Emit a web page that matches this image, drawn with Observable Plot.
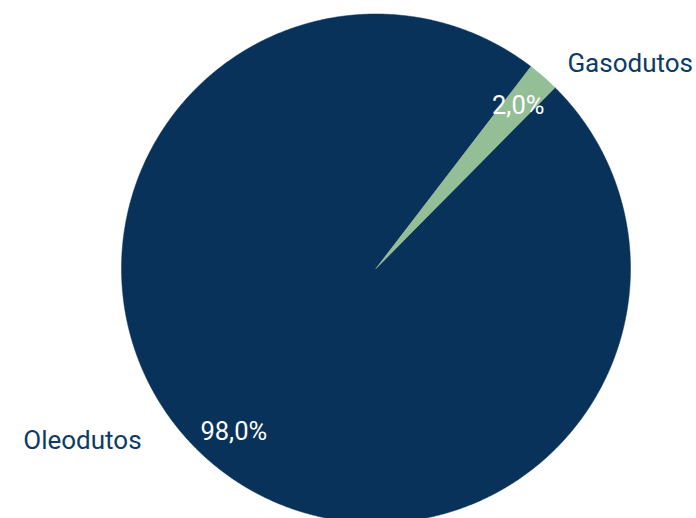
<!DOCTYPE html>
<html>
<head>
<meta charset="utf-8">
<script src="https://cdn.jsdelivr.net/npm/d3@7"></script>
<script src="https://cdn.jsdelivr.net/npm/@observablehq/plot@0.6"></script>
<style>
  html, body { margin: 0; padding: 0; background: #fff; }
  #chart svg { display: block; }
</style>
</head>
<body>
<div id="chart"></div>
<script>
// Data
const categories = ["Oleodutos", "Gasodutos"];
const values = [98.0, 2.0];
const valueLabels = ["98,0%", "2,0%"];

// Style / layout
const colors = ["#08325A", "#93BE96"];
const W = 696, H = 518;
const cx = 375.5, cy = 268, R = 254.5;   // pixel center & radius
const startDeg = 44.7;                   // first slice angle (clockwise from north)
// outer category label placement (radius factor + anchor offsets)
const outerLayout = {
  "Oleodutos": {r: 1.15, anchor: "end", dx: -42, dy: -48},
  "Gasodutos": {r: 1.15, anchor: "start", dx: -1, dy: 16}
};

const pie = d3.pie().sort(null).value(d => d.value)
  .startAngle(startDeg * Math.PI / 180)
  .endAngle(startDeg * Math.PI / 180 + 2 * Math.PI);
const table = categories.map((c, i) => ({cat: c, value: values[i], label: valueLabels[i]}));
const arcs = pie(table);

// polygons from pie angles (angles clockwise from north; x = sin, y = cos)
const poly = [];
arcs.forEach(a => {
  poly.push({cat: a.data.cat, x: 0, y: 0});
  const n = Math.max(4, Math.ceil((a.endAngle - a.startAngle) / 0.005));
  for (let k = 0; k <= n; k++) {
    const t = a.startAngle + (a.endAngle - a.startAngle) * k / n;
    poly.push({cat: a.data.cat, x: Math.sin(t), y: Math.cos(t)});
  }
  poly.push({cat: a.data.cat, x: 0, y: 0});
});

const mid = a => (a.startAngle + a.endAngle) / 2;
const inner = arcs.map(a => ({label: a.data.label, x: 0.85 * Math.sin(mid(a)), y: 0.85 * Math.cos(mid(a))}));
const outer = arcs.map(a => {
  const L = outerLayout[a.data.cat];
  return {label: a.data.cat, x: L.r * Math.sin(mid(a)), y: L.r * Math.cos(mid(a)), ...L};
});

const chart = Plot.plot({
  width: W, height: H,
  margin: 0,
  style: {fontFamily: "Roboto, 'Liberation Sans', sans-serif", background: "#fff"},
  x: {domain: [-cx / R, (W - cx) / R], axis: null},
  y: {domain: [(cy - H) / R, cy / R], axis: null},
  color: {domain: categories, range: colors},
  marks: [
    Plot.line(poly, {x: "x", y: "y", z: "cat", fill: "cat", stroke: "cat", strokeWidth: 0.5, curve: "linear"}),
    Plot.text(inner, {x: "x", y: "y", text: "label", fill: "white", fontSize: 25.5}),
    ...outer.map(o => Plot.text([o], {x: "x", y: "y", text: "label", fill: "#0D3A66", fontSize: 26,
      textAnchor: o.anchor, dx: o.dx, dy: o.dy}))
  ]
});
document.getElementById("chart").appendChild(chart);
</script>
</body>
</html>
